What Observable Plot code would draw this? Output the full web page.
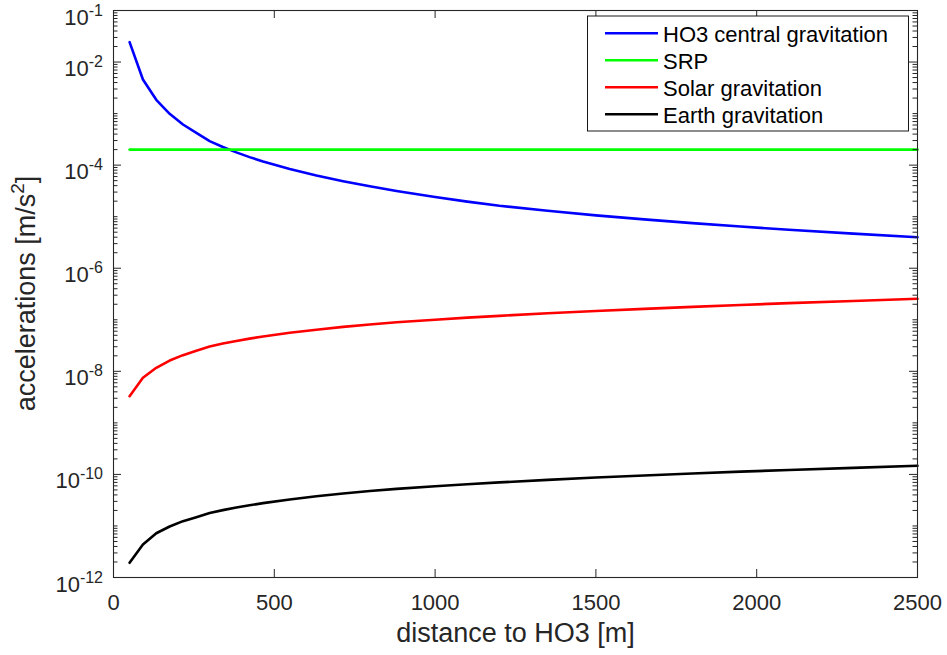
<!DOCTYPE html>
<html><head><meta charset="utf-8">
<script src="https://cdn.jsdelivr.net/npm/d3@7"></script>
<script src="https://cdn.jsdelivr.net/npm/@observablehq/plot@0.6"></script>
<style>
body{margin:0;background:#fff;}
svg{font-family:"Liberation Sans",Arial,Helvetica,sans-serif;}
</style>
</head><body><div id="chart"></div>
<script>
// distance to HO3 [m]
const distance = [50, 91.5, 133, 174.6, 216, 257.6, 299, 340, 382, 423, 465, 548, 631, 714, 797, 880, 1000, 1100, 1200, 1350, 1500, 1650, 1800, 1950, 2100, 2300, 2500];
// accelerations [m/s^2]
const ho3Central = [2.43e-2, 4.58e-3, 1.85e-3, 9.9e-4, 6.14e-4, 4.24e-4, 2.93e-4, 2.25e-4, 1.77e-4, 1.43e-4, 1.18e-4, 8.42e-5, 6.30e-5, 4.89e-5, 3.89e-5, 3.15e-5, 2.40e-5, 1.96e-5, 1.63e-5, 1.30e-5, 1.06e-5, 8.86e-6, 7.50e-6, 6.44e-6, 5.58e-6, 4.69e-6, 4.0e-6];
const srp = [2.0e-4, 2.0e-4, 2.0e-4, 2.0e-4, 2.0e-4, 2.0e-4, 2.0e-4, 2.0e-4, 2.0e-4, 2.0e-4, 2.0e-4, 2.0e-4, 2.0e-4, 2.0e-4, 2.0e-4, 2.0e-4, 2.0e-4, 2.0e-4, 2.0e-4, 2.0e-4, 2.0e-4, 2.0e-4, 2.0e-4, 2.0e-4, 2.0e-4, 2.0e-4, 2.0e-4];
const solarGrav = [3.29e-9, 7.48e-9, 1.17e-8, 1.62e-8, 2.06e-8, 2.50e-8, 3.04e-8, 3.46e-8, 3.89e-8, 4.31e-8, 4.73e-8, 5.58e-8, 6.42e-8, 7.27e-8, 8.11e-8, 8.96e-8, 1.0e-7, 1.1e-7, 1.19e-7, 1.34e-7, 1.48e-7, 1.63e-7, 1.78e-7, 1.94e-7, 2.10e-7, 2.32e-7, 2.55e-7];
const earthGrav = [1.93e-12, 4.37e-12, 7.23e-12, 9.75e-12, 1.24e-11, 1.48e-11, 1.79e-11, 2.03e-11, 2.28e-11, 2.52e-11, 2.77e-11, 3.26e-11, 3.76e-11, 4.25e-11, 4.75e-11, 5.24e-11, 5.9e-11, 6.45e-11, 7.0e-11, 7.85e-11, 8.7e-11, 9.55e-11, 1.04e-10, 1.13e-10, 1.22e-10, 1.34e-10, 1.47e-10];

const seriesNames = ["HO3 central gravitation", "SRP", "Solar gravitation", "Earth gravitation"];
const seriesColors = ["#0000ff", "#00ff00", "#ff0000", "#000000"];
const seriesValues = [ho3Central, srp, solarGrav, earthGrav];

const xTicks = [0, 500, 1000, 1500, 2000, 2500];
const yTickExponents = [-1, -2, -4, -6, -8, -10, -12];
const xLabel = "distance to HO3 [m]";

const W = 947, H = 655;
const mL = 113, mR = 30, mT = 10, mB = 78;
const PW = W - mL - mR, PH = H - mT - mB;

const rows = [];
seriesValues.forEach((vals, si) => {
  vals.forEach((v, i) => rows.push({series: seriesNames[si], x: distance[i], y: v}));
});

const majorY = yTickExponents.map(e => Math.pow(10, e));
const minorY = [];
for (let e = -12; e < -1; e++) {
  for (let m = 1; m <= 9; m++) {
    if (m === 1 && yTickExponents.includes(e)) continue;
    minorY.push(m * Math.pow(10, e));
  }
}
const axisColor = "#262626";
const tickMajor = 8, tickMinor = 4.5;

const plot = Plot.plot({
  width: W, height: H,
  marginLeft: mL, marginRight: mR, marginTop: mT, marginBottom: mB,
  x: {domain: [0, 2500], axis: null},
  y: {type: "log", domain: [1e-12, 1e-1], axis: null},
  color: {domain: seriesNames, range: seriesColors},
  marks: [
    Plot.line(rows, {x: "x", y: "y", z: "series", stroke: "series", strokeWidth: 2.6}),
    Plot.ruleX(xTicks, {x: d => d, insetTop: PH - tickMajor, stroke: axisColor}),
    Plot.ruleX(xTicks, {x: d => d, insetBottom: PH - tickMajor, stroke: axisColor}),
    Plot.ruleY(majorY, {y: d => d, insetRight: PW - tickMajor, stroke: axisColor}),
    Plot.ruleY(majorY, {y: d => d, insetLeft: PW - tickMajor, stroke: axisColor}),
    Plot.ruleY(minorY, {y: d => d, insetRight: PW - tickMinor, stroke: axisColor}),
    Plot.ruleY(minorY, {y: d => d, insetLeft: PW - tickMinor, stroke: axisColor}),
    Plot.frame({stroke: axisColor, strokeWidth: 1.1}),
    Plot.text(xTicks, {x: d => d, frameAnchor: "bottom", dy: 32, text: d => String(d), fontSize: 22, fill: axisColor, textAnchor: "middle"}),
    Plot.text([xLabel], {frameAnchor: "bottom", dy: 64, text: d => d, fontSize: 27, fill: axisColor})
  ]
});
document.getElementById("chart").appendChild(plot);

const svg = d3.select(plot);
const ys = plot.scale("y");

// y tick labels with superscripts
const gy = svg.append("g").attr("fill", axisColor).attr("font-size", 22).attr("text-anchor", "end");
yTickExponents.forEach(e => {
  const t = gy.append("text").attr("x", 103).attr("y", ys.apply(Math.pow(10, e)) + 14.5);
  t.append("tspan").text("10");
  t.append("tspan").attr("font-size", 16).attr("dy", -9).text(String(e));
});

// y axis label
const yl = svg.append("text").attr("fill", axisColor).attr("font-size", 27)
  .attr("text-anchor", "middle")
  .attr("transform", `translate(35,${mT + PH / 2}) rotate(-90)`);
yl.append("tspan").text("accelerations [m/s");
yl.append("tspan").attr("font-size", 19).attr("dy", -11).text("2");
yl.append("tspan").attr("dy", 11).text("]");

// legend
const lg = svg.append("g").attr("text-anchor", "start");
lg.append("rect").attr("x", 587.5).attr("y", 16).attr("width", 321).attr("height", 115)
  .attr("fill", "#fff").attr("stroke", "#000").attr("stroke-width", 0.9);
seriesNames.forEach((name, i) => {
  const yy = 33.3 + i * 27;
  lg.append("line").attr("x1", 605).attr("x2", 658).attr("y1", yy).attr("y2", yy)
    .attr("stroke", seriesColors[i]).attr("stroke-width", 2.6);
  lg.append("text").attr("x", 663).attr("y", yy + 8.3).attr("font-size", 22).attr("fill", "#000").text(name);
});
</script>
</body></html>
